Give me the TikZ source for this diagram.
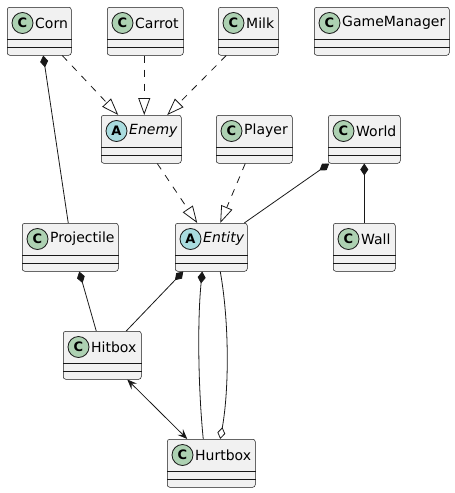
\documentclass[tikz,border=0pt]{standalone}
\usepackage{fontspec}
\setmainfont{DejaVu Sans}
\usetikzlibrary{arrows.meta}

\definecolor{boxfill}{HTML}{F1F1F1}
\definecolor{boxline}{HTML}{181818}
\definecolor{classgreen}{HTML}{ADD1B2}
\definecolor{abstractcyan}{HTML}{A9DCDF}

% name, left, top, width, icon colour, icon letter, label
\newcommand{\umlclass}[7]{%
  \node[classbox, minimum width=#4pt, anchor=north west] (#1) at (#2,#3) {};
  \draw[compartment] ([yshift=-32pt]#1.north west) -- ([yshift=-32pt]#1.north east);
  \draw[compartment] ([yshift=-40pt]#1.north west) -- ([yshift=-40pt]#1.north east);
  \node[classicon, fill=#5] (#1-icon) at ([xshift=15.5pt,yshift=-16pt]#1.north west) {#6};
  \node[classname] (#1-name) at ([xshift=28pt,yshift=-16pt]#1.north west) {#7};
}

\begin{document}
\begin{tikzpicture}[x=1pt,y=-1pt,
  classbox/.style={draw=boxline, line width=0.5pt, fill=boxfill, rounded corners=2.5pt,
    minimum height=48pt, inner sep=0pt},
  compartment/.style={draw=boxline, line width=0.5pt},
  classicon/.style={circle, draw=boxline, line width=0.8pt, minimum size=21pt, inner sep=0pt,
    font=\fontsize{13}{13}\selectfont\bfseries},
  classname/.style={anchor=west, inner sep=0pt, font=\fontsize{14}{16}\selectfont},
  edge/.style={draw=boxline, line width=0.8pt},
  composition/.style={edge, {Diamond[length=12pt,width=8pt]}-},
  aggregation/.style={edge, -{Diamond[open,length=12pt,width=8pt]}},
  inherit/.style={edge, dash pattern=on 7pt off 7pt, -{Triangle[open,length=17pt,width=12pt]}},
  navigable/.style={edge, {Stealth[length=10pt,width=8pt,inset=4pt]}-{Stealth[length=10pt,width=8pt,inset=4pt]}}]
\useasboundingbox (0,0) rectangle (455,493);

% classes
\umlclass{corn}{7}{7}{64}{classgreen}{C}{Corn}
\umlclass{carrot}{107}{7}{76}{classgreen}{C}{Carrot}
\umlclass{milk}{218}{7}{60}{classgreen}{C}{Milk}
\umlclass{gamemanager}{314}{7}{135}{classgreen}{C}{GameManager}
\umlclass{enemy}{101}{115}{80}{abstractcyan}{A}{\itshape Enemy}
\umlclass{player}{216}{115}{76}{classgreen}{C}{Player}
\umlclass{world}{328}{115}{72}{classgreen}{C}{World}
\umlclass{projectile}{22}{223}{96}{classgreen}{C}{Projectile}
\umlclass{entity}{175}{223}{72}{abstractcyan}{A}{\itshape Entity}
\umlclass{wall}{333}{223}{62}{classgreen}{C}{Wall}
\umlclass{hitbox}{63}{331}{78}{classgreen}{C}{Hitbox}
\umlclass{hurtbox}{167}{439}{88}{classgreen}{C}{Hurtbox}

% relations
\draw[composition] ([xshift=4pt]corn.south) -- ([xshift=-2pt]projectile.north);
\draw[inherit] ([xshift=23pt]corn.south) -- ([xshift=-23pt]enemy.north);
\draw[inherit] ([xshift=-1pt]carrot.south) -- ([xshift=3pt]enemy.north);
\draw[inherit] ([xshift=-22pt]milk.south) -- ([xshift=26pt]enemy.north);
\draw[inherit] ([xshift=16pt]enemy.south) -- ([xshift=-14pt]entity.north);
\draw[inherit] ([xshift=-9pt]player.south) -- ([xshift=9pt]entity.north);
\draw[composition] ([xshift=-35pt]world.south) -- ([xshift=33pt]entity.north);
\draw[composition] (world.south) -- (wall.north);
\draw[composition] ([xshift=9pt]projectile.south) -- ([xshift=-6pt]hitbox.north);
\draw[composition] ([xshift=-28pt]entity.south) -- ([xshift=24pt]hitbox.north);
\draw[composition] ([xshift=-9pt]entity.south) .. controls +(-5,50) and +(-5,-50) .. ([xshift=-8pt]hurtbox.north);
\draw[aggregation] ([xshift=9pt]entity.south) .. controls +(9,50) and +(9,-50) .. ([xshift=9pt]hurtbox.north);
\draw[navigable] ([xshift=25pt]hitbox.south) -- ([xshift=-24pt]hurtbox.north);
\end{tikzpicture}
\end{document}
